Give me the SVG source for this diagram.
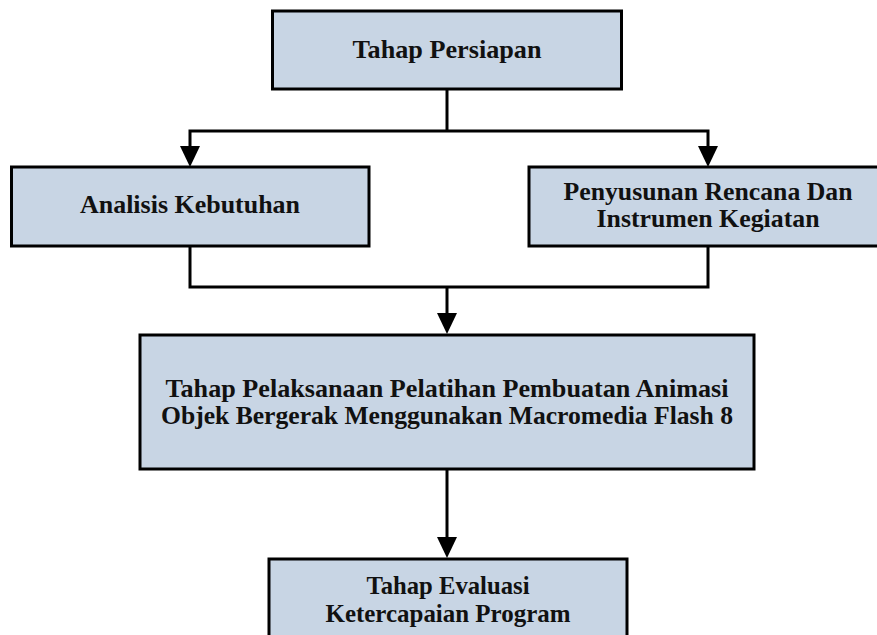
<svg xmlns="http://www.w3.org/2000/svg" width="877" height="635" viewBox="0 0 877 635">
  <style>
    .box { fill: #C8D5E4; stroke: #000; stroke-width: 3; }
    .lbl { font-family: "Liberation Serif", "Times New Roman", serif; font-weight: bold; font-size: 25px; fill: #111; text-anchor: middle; }
    .conn { fill: none; stroke: #000; stroke-width: 3; }
  </style>
  <defs>
    <marker id="arrow" viewBox="0 0 21 20" refX="0" refY="10" markerWidth="21" markerHeight="20" markerUnits="userSpaceOnUse" orient="auto-start-reverse">
      <path d="M0,0 L21,10 L0,20 z" fill="#000"/>
    </marker>
  </defs>
  <rect width="877" height="635" fill="#fff"/>

  <g id="connectors">
    <path class="conn" d="M447,89 V131"/>
    <path class="conn" d="M190,146 V131 H708 V146" marker-start="url(#arrow)" marker-end="url(#arrow)"/>
    <path class="conn" d="M190,246 V287 H708 V246"/>
    <path class="conn" d="M447,287 V313" marker-end="url(#arrow)"/>
    <path class="conn" d="M447,469 V537" marker-end="url(#arrow)"/>
  </g>

  <g id="tahap-persiapan">
    <rect class="box" x="272.5" y="11" width="349" height="78"/>
    <text class="lbl" x="447" y="58" textLength="189" lengthAdjust="spacingAndGlyphs">Tahap Persiapan</text>
  </g>

  <g id="analisis-kebutuhan">
    <rect class="box" x="11.5" y="167" width="357.5" height="79"/>
    <text class="lbl" x="190" y="213" textLength="220" lengthAdjust="spacingAndGlyphs">Analisis Kebutuhan</text>
  </g>

  <g id="penyusunan-rencana">
    <rect class="box" x="529" y="167" width="358" height="79"/>
    <text class="lbl" x="708" y="200" textLength="289" lengthAdjust="spacingAndGlyphs">Penyusunan Rencana Dan</text>
    <text class="lbl" x="708" y="227" textLength="223" lengthAdjust="spacingAndGlyphs">Instrumen Kegiatan</text>
  </g>

  <g id="tahap-pelaksanaan">
    <rect class="box" x="140" y="335" width="614" height="134"/>
    <text class="lbl" x="447" y="397" textLength="563" lengthAdjust="spacingAndGlyphs">Tahap Pelaksanaan Pelatihan Pembuatan Animasi</text>
    <text class="lbl" x="447" y="424" textLength="572" lengthAdjust="spacingAndGlyphs">Objek Bergerak Menggunakan Macromedia Flash 8</text>
  </g>

  <g id="tahap-evaluasi">
    <rect class="box" x="269" y="559" width="358" height="90"/>
    <text class="lbl" x="448" y="594" textLength="163" lengthAdjust="spacingAndGlyphs">Tahap Evaluasi</text>
    <text class="lbl" x="448" y="622" textLength="245" lengthAdjust="spacingAndGlyphs">Ketercapaian Program</text>
  </g>
</svg>
